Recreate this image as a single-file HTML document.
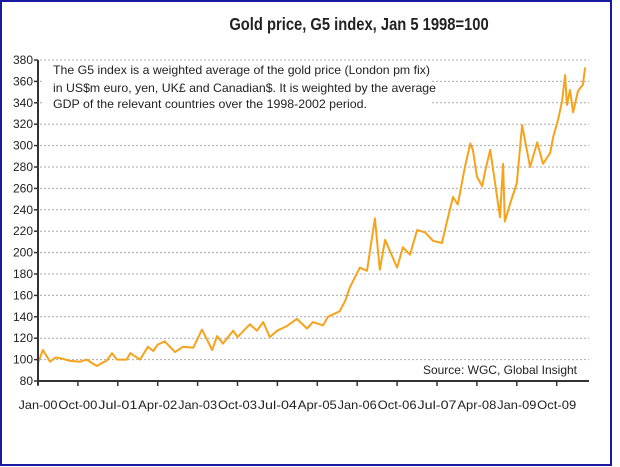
<!DOCTYPE html>
<html><head><meta charset="utf-8"><style>
body{margin:0;background:#fff;}
svg{display:block;font-family:"Liberation Sans",sans-serif;}
</style></head><body>
<svg id="chart" width="620" height="467">
<rect x="1" y="1" width="610" height="464" fill="#fff" stroke="#1a1aa0" stroke-width="2"/>
<text x="359" y="30" text-anchor="middle" font-size="18" font-weight="bold" fill="#222" transform="translate(359 0) scale(0.82 1) translate(-359 0)">Gold price, G5 index, Jan 5 1998=100</text>
<g id="grid"></g>
<rect x="42" y="63" width="388" height="50" fill="#fff"/>
<g font-size="12" fill="#222">
<text x="53" y="74" textLength="377" lengthAdjust="spacingAndGlyphs">The G5 index is a weighted average of the gold price (London pm fix)</text>
<text x="53" y="92" textLength="383" lengthAdjust="spacingAndGlyphs">in US$m euro, yen, UK£ and Canadian$. It is weighted by the average</text>
<text x="53" y="108" textLength="314" lengthAdjust="spacingAndGlyphs">GDP of the relevant countries over the 1998-2002 period.</text>
</g>
<g id="series"></g>
<g id="axes"></g>
<text x="577" y="374" text-anchor="end" font-size="12" fill="#222">Source: WGC, Global Insight</text>
</svg>
<script>
const yTicks=[80,100,120,140,160,180,200,220,240,260,280,300,320,340,360,380];
const xTickLabels=["Jan-00","Oct-00","Jul-01","Apr-02","Jan-03","Oct-03","Jul-04","Apr-05","Jan-06","Oct-06","Jul-07","Apr-08","Jan-09","Oct-09"];
const months=[0,1.1,2.7,4,5.4,7,9.5,11,12.5,13.3,14.5,15.5,16.7,17.8,20,20.8,23,24.8,26,27,28.6,30.9,32.7,35,37,39.3,40.4,41.7,44,45,47.8,49.4,50.8,52.3,53.9,56,58.4,60.7,62,64.3,65.4,68,69.3,70.4,72.6,74.2,76,77.1,78.3,81,82.3,83.9,85.5,87.3,89.1,91.1,92.3,93.6,94.7,96.3,97.5,98.1,99,100.2,100.8,102,103.1,104.2,104.9,105.3,106.5,108,109.2,111,112.6,113.9,115.5,116.2,117.3,118.2,118.9,119.3,120,120.7,121.8,122.9,123.4];
const values=[97,109,98,102,101,99,98,100,96,94,97,99,106,100,100,106,100,112,108,114,117,107,112,111,128,109,122,115,127,121,133,127,135,121,127,131,138,129,135,132,140,145,155,168,186,183,232,184,212,186,205,198,221,219,211,209,230,252,245,280,302,296,271,262,275,296,265,233,283,229,246,265,319,280,303,283,293,308,324,341,366,338,352,331,351,357,373];
const NS="http://www.w3.org/2000/svg";
const X0=38,X1=589,Y0=381,Y1=60;
const xs=m=>X0+m*(39.9/9);
const ys=v=>Y0-(v-80)*(Y0-Y1)/300;
const grid=document.getElementById('grid'),axes=document.getElementById('axes'),series=document.getElementById('series');
function mk(tag,attrs,parent){const e=document.createElementNS(NS,tag);for(const k in attrs)e.setAttribute(k,attrs[k]);parent.appendChild(e);return e;}
yTicks.forEach(v=>{
  if(v>80){const g=mk('line',{x1:X0+2,x2:X1,y1:ys(v),y2:ys(v),stroke:'#aaa','stroke-dasharray':'2 2','stroke-width':1},grid);
  
  }
  const t=mk('line',{x1:X0-4,x2:X0,y1:ys(v),y2:ys(v),stroke:'#333','stroke-width':1.5},axes);
  
  
  const l=mk('text',{x:33,y:ys(v)+4,'text-anchor':'end','font-size':12,fill:'#222'},axes);
  l.textContent=v;
  
  
});
const ya=mk('line',{x1:X0,x2:X0,y1:Y1,y2:Y0+4,stroke:'#333','stroke-width':2},axes);


const xa=mk('line',{x1:X0,x2:X1,y1:Y0,y2:Y0,stroke:'#333','stroke-width':2},axes);


xTickLabels.forEach((s,i)=>{
  const x=xs(i*9);
  const t=mk('line',{x1:x,x2:x,y1:Y0,y2:Y0+5,stroke:'#333','stroke-width':1.5},axes);
  
  
  const l=mk('text',{x:x,y:409,'text-anchor':'middle','font-size':12,fill:'#222',textLength:39,lengthAdjust:'spacingAndGlyphs'},axes);
  l.textContent=s;
  
  
});
const pts=months.map((m,i)=>xs(m).toFixed(1)+','+ys(values[i]).toFixed(1)).join(' ');
const line=mk('polyline',{points:pts,fill:'none',stroke:'#f7a21b','stroke-width':2,'stroke-linejoin':'round'},series);


</script>
</body></html>
